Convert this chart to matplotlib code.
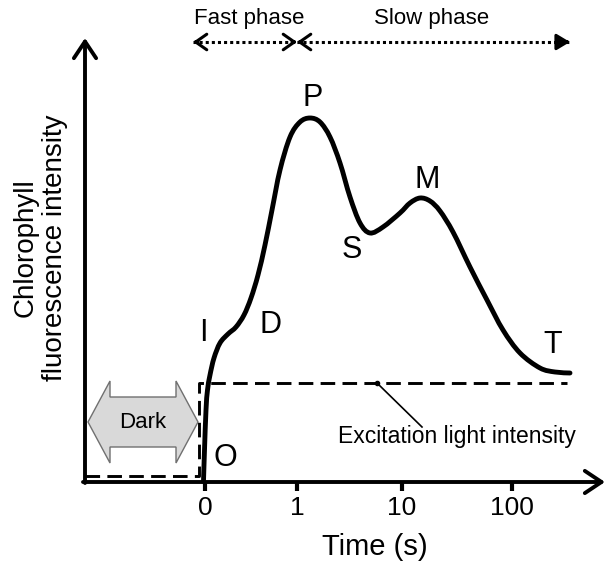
import numpy as np
import matplotlib.pyplot as plt
from matplotlib.patches import Polygon, PathPatch
from matplotlib.path import Path

plt.rcParams['font.family'] = ['Liberation Sans', 'DejaVu Sans']

# fluorescence trace (x: log-time position, 1 unit ~ one decade; y: intensity, a.u.)
curve_x = [-0.015, -0.005, 0.01, 0.025, 0.05, 0.09, 0.15, 0.23, 0.31, 0.39, 0.46,
           0.53, 0.60, 0.67, 0.75, 0.85, 0.95, 1.05, 1.15, 1.25, 1.35, 1.45, 1.55,
           1.65, 1.78, 1.95, 2.05, 2.15, 2.25, 2.35, 2.48, 2.65, 2.82, 2.98, 3.15,
           3.35, 3.50, 3.65]
curve_y = [0.01, 0.32, 0.72, 0.92, 1.07, 1.24, 1.39, 1.48, 1.55, 1.67, 1.84,
           2.07, 2.37, 2.72, 3.12, 3.45, 3.60, 3.64, 3.60, 3.45, 3.19, 2.85, 2.59,
           2.49, 2.55, 2.69, 2.79, 2.84, 2.81, 2.71, 2.50, 2.15, 1.82, 1.52, 1.29,
           1.14, 1.10, 1.09]

# excitation light (dark, then on)
light_x = [-1.2, -0.06, -0.06, 3.62]
light_y = [0.06, 0.06, 0.99, 0.99]

# OJIP / PSMT points
point_names = ['O', 'I', 'D', 'P', 'S', 'M', 'T']
point_x = [0.20, -0.02, 0.65, 1.08, 1.47, 2.22, 3.48]
point_y = [0.24, 1.49, 1.57, 3.84, 2.32, 3.02, 1.37]

tick_pos = [0, 0.92, 1.97, 3.07]
tick_labels = ['0', '1', '10', '100']


def smooth_path(xs, ys):
    # cubic bezier through the points (catmull-rom tangents)
    p = np.column_stack([xs, ys])
    verts = [p[0]]
    codes = [Path.MOVETO]
    for i in range(len(p) - 1):
        p0 = p[i - 1] if i > 0 else p[i]
        p3 = p[i + 2] if i + 2 < len(p) else p[i + 1]
        c1 = p[i] + (p[i + 1] - p0) / 6
        c2 = p[i + 1] - (p3 - p[i]) / 6
        verts += [c1, c2, p[i + 1]]
        codes += [Path.CURVE4] * 3
    return Path(verts, codes)


fig = plt.figure(figsize=(6.07, 5.69), dpi=100)
ax = fig.add_axes([0, 0, 1, 1])
ax.set_xlim(-2.05, 4.02)
ax.set_ylim(-0.87, 4.82)
ax.axis('off')

# axes with arrows
axis_arrow = dict(arrowstyle='->,head_length=0.6,head_width=0.4', lw=2.8,
                  color='black', mutation_scale=20, shrinkA=0, shrinkB=0)
ax.annotate('', xy=(4.0, 0), xytext=(-1.22, 0), arrowprops=axis_arrow)
ax.annotate('', xy=(-1.2, 4.44), xytext=(-1.2, -0.01), arrowprops=axis_arrow)

for xp, lab in zip(tick_pos, tick_labels):
    ax.plot([xp, xp], [0, -0.09], color='black', lw=3, solid_capstyle='butt')
    ax.text(xp, -0.26, lab, ha='center', va='center', fontsize=19)

ax.text(1.70, -0.65, 'Time (s)', ha='center', va='center', fontsize=21)
ax.text(-1.645, 2.34, 'Chlorophyll\nfluorescence intensity', ha='center', va='center',
        rotation=90, fontsize=20, linespacing=1.15)

# excitation light and trace
ax.plot(light_x, light_y, color='black', lw=2.1, dashes=(5, 2.5))
ax.add_patch(PathPatch(smooth_path(curve_x, curve_y), facecolor='none', edgecolor='black',
                       lw=3.5, joinstyle='round', capstyle='round'))

for name, px, py in zip(point_names, point_x, point_y):
    ax.text(px, py, name, ha='center', va='center', fontsize=22)

# leader to excitation label
ax.plot([1.72, 2.17], [0.99, 0.55], color='black', lw=1.2)
ax.plot([1.72], [0.99], 'o', color='black', ms=3)
ax.text(2.52, 0.45, 'Excitation light intensity', ha='center', va='center', fontsize=16.5)

# dark period double block arrow
cx, cy, half_len, head_len, shaft_h, head_h = -0.62, 0.60, 0.55, 0.22, 0.25, 0.41
verts = [(cx - half_len, cy), (cx - half_len + head_len, cy + head_h),
         (cx - half_len + head_len, cy + shaft_h), (cx + half_len - head_len, cy + shaft_h),
         (cx + half_len - head_len, cy + head_h), (cx + half_len, cy),
         (cx + half_len - head_len, cy - head_h), (cx + half_len - head_len, cy - shaft_h),
         (cx - half_len + head_len, cy - shaft_h), (cx - half_len + head_len, cy - head_h)]
ax.add_patch(Polygon(verts, closed=True, facecolor='#d9d9d9', edgecolor='#707070', lw=1))
ax.text(cx, cy, 'Dark', ha='center', va='center', fontsize=16)

# phase arrows
phase_y = 4.40
phase_edges = [-0.12, 0.92, 3.65]
ax.plot([phase_edges[0], phase_edges[2]], [phase_y, phase_y], color='black', lw=2.2,
        linestyle=(0, (1, 1)))
head = dict(arrowstyle='->,head_length=0.5,head_width=0.35', lw=2.2, color='black',
            mutation_scale=16, shrinkA=0, shrinkB=0)
ax.annotate('', xy=(phase_edges[0], phase_y), xytext=(phase_edges[0] + 0.05, phase_y), arrowprops=head)
ax.annotate('', xy=(phase_edges[1], phase_y), xytext=(phase_edges[1] - 0.05, phase_y), arrowprops=head)
ax.annotate('', xy=(phase_edges[1], phase_y), xytext=(phase_edges[1] + 0.05, phase_y), arrowprops=head)
ax.annotate('', xy=(phase_edges[2], phase_y), xytext=(phase_edges[2] - 0.05, phase_y),
            arrowprops=dict(arrowstyle='-|>,head_length=0.5,head_width=0.3', lw=2.2,
                            color='black', mutation_scale=16, shrinkA=0, shrinkB=0))
ax.text(0.44, 4.64, 'Fast phase', ha='center', va='center', fontsize=16)
ax.text(2.27, 4.64, 'Slow phase', ha='center', va='center', fontsize=16)

fig.savefig('out.png', dpi=100)
